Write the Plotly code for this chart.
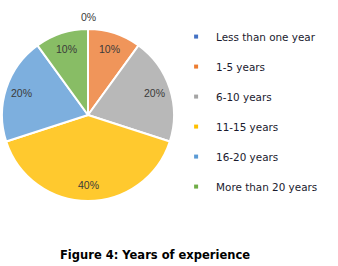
import math
import plotly.graph_objects as go

categories = ["Less than one year", "1-5 years", "6-10 years", "11-15 years", "16-20 years", "More than 20 years"]
values = [0, 10, 20, 40, 20, 10]
colors = ["#4472C4", "#F0955A", "#B8B8B8", "#FFC92E", "#7DAFDE", "#88BD65"]
legend_colors = ["#4472C4", "#ED7D31", "#A5A5A5", "#FFC000", "#5B9BD5", "#70AD47"]
title_text = "Figure 4: Years of experience"

W, H = 338, 266
dom_x = [2 / W, 174 / W]
dom_y = [1 - 201 / H, 1 - 29 / H]

fig = go.Figure()
fig.add_trace(go.Pie(
    labels=categories, values=values, sort=False, direction="clockwise", rotation=0,
    marker=dict(colors=colors, line=dict(color="white", width=2)),
    textinfo="none",
    showlegend=False,
    domain=dict(x=dom_x, y=dom_y),
    hoverinfo="label+percent",
))
for i, (c, col) in enumerate(zip(categories, legend_colors)):
    fig.add_trace(go.Scatter(
        x=[None], y=[None], mode="markers", name=c,
        marker=dict(symbol="square", size=4, color=col),
        legendgroup=f"g{i}", showlegend=True,
    ))

# percentage labels placed from the data (slice mid-angles)
cx = (dom_x[0] + dom_x[1]) / 2 * W
cy = (1 - (dom_y[0] + dom_y[1]) / 2) * H
R = min((dom_x[1] - dom_x[0]) * W, (dom_y[1] - dom_y[0]) * H) / 2
total = sum(values)
annotations = []
cum = 0
for v in values:
    mid = (cum + v / 2) / total * 2 * math.pi
    cum += v
    r = R * 0.81 if v > 0 else R + 12
    px = cx + r * math.sin(mid)
    py = cy - r * math.cos(mid)
    annotations.append(dict(
        text=f"{round(100 * v / total)}%", x=px / W, y=1 - py / H,
        xref="paper", yref="paper", xanchor="center", yanchor="middle", showarrow=False,
        font=dict(family="Liberation Sans", size=10.5, color="#3a3a3a"),
    ))
annotations.append(dict(
    text="<b>" + title_text + "</b>", x=155 / W, y=1 - 255 / H, xref="paper", yref="paper",
    xanchor="center", yanchor="middle", showarrow=False,
    font=dict(family="DejaVu Sans", size=11.5, color="#000000"),
))

fig.update_layout(
    width=W, height=H,
    margin=dict(l=0, r=0, t=0, b=0),
    paper_bgcolor="white", plot_bgcolor="white",
    xaxis=dict(visible=False), yaxis=dict(visible=False),
    legend=dict(
        x=0.521, y=0.917, xanchor="left", yanchor="top",
        font=dict(family="DejaVu Sans", size=10.4, color="#1a1a2e"),
        tracegroupgap=11, itemsizing="trace", bgcolor="rgba(0,0,0,0)",
    ),
    annotations=annotations,
)

fig.write_html("out.html", config={"displayModeBar": False},
               post_script="document.body.style.margin='0';")
